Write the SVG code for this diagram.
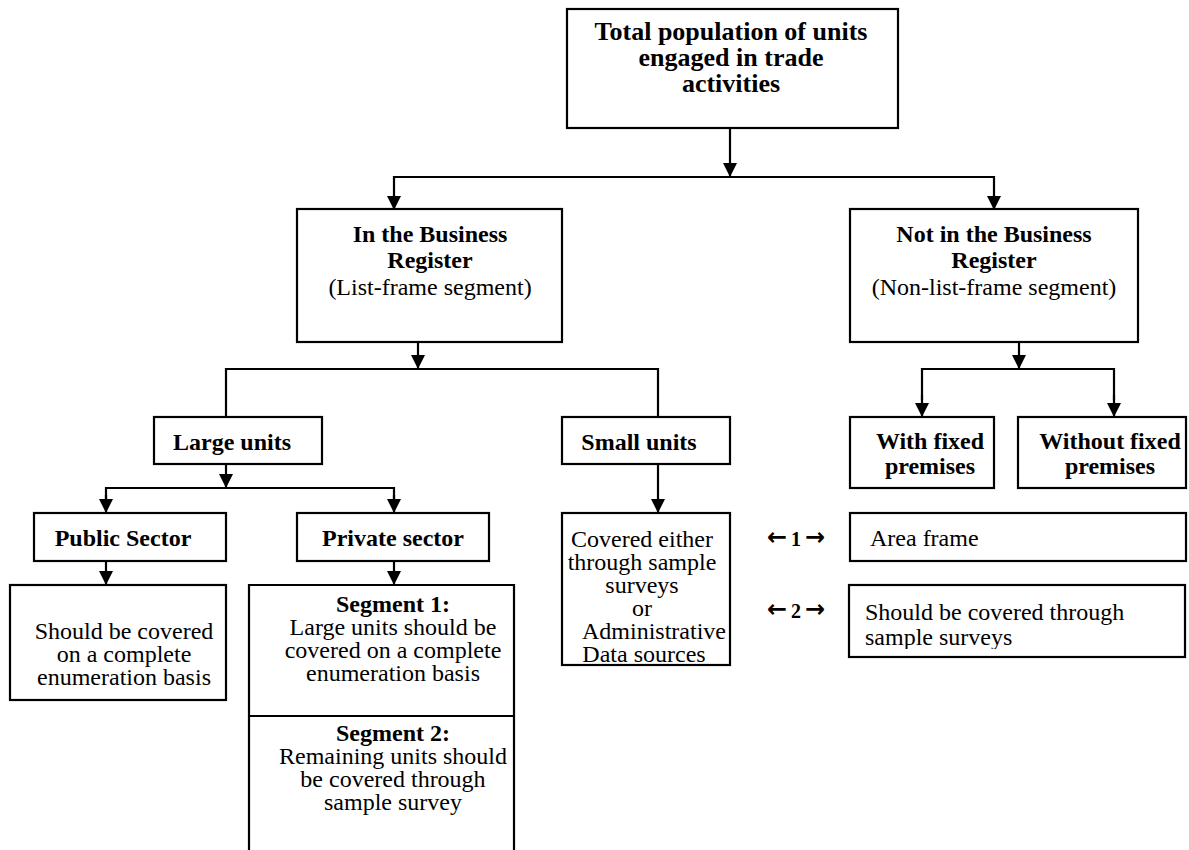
<svg xmlns="http://www.w3.org/2000/svg" width="1189" height="850" viewBox="0 0 1189 850">
<defs>
<style>
.box{fill:#fff;stroke:#000;stroke-width:2.2}
.ln{fill:none;stroke:#000;stroke-width:2.2}
text{font-family:"Liberation Serif","Times New Roman",serif;fill:#000;font-size:24px}
.b{font-weight:bold}
.c{text-anchor:middle}
.big{font-size:26px;font-weight:bold}
.arr{font-family:"DejaVu Sans","Liberation Sans",sans-serif;font-size:24px;font-weight:bold}
.num{font-size:20px;font-weight:bold}
</style>
<marker id="ah" viewBox="0 0 14 14" refX="14" refY="7" markerWidth="14" markerHeight="14" markerUnits="userSpaceOnUse" orient="auto">
<path d="M0,0 L14,7 L0,14 z" fill="#000"/>
</marker>
<clipPath id="clipS"><rect x="850" y="586" width="335" height="63"/></clipPath>
</defs>

<g id="connectors">
<path class="ln" d="M730,128 V177" marker-end="url(#ah)"/>
<path class="ln" d="M394,200 V177 H994 V200"/>
<path class="ln" d="M394,195 V210" marker-end="url(#ah)"/>
<path class="ln" d="M994,195 V210" marker-end="url(#ah)"/>
<path class="ln" d="M418,342 V369" marker-end="url(#ah)"/>
<path class="ln" d="M226,417 V369 H658 V417"/>
<path class="ln" d="M1019,342 V369" marker-end="url(#ah)"/>
<path class="ln" d="M922,400 V369 H1114 V400"/>
<path class="ln" d="M922,395 V417" marker-end="url(#ah)"/>
<path class="ln" d="M1114,395 V417" marker-end="url(#ah)"/>
<path class="ln" d="M226,464 V488" marker-end="url(#ah)"/>
<path class="ln" d="M106,500 V488 H394 V500"/>
<path class="ln" d="M106,495 V513" marker-end="url(#ah)"/>
<path class="ln" d="M394,495 V513" marker-end="url(#ah)"/>
<path class="ln" d="M106,561 V585" marker-end="url(#ah)"/>
<path class="ln" d="M394,561 V585" marker-end="url(#ah)"/>
<path class="ln" d="M658,464 V513" marker-end="url(#ah)"/>
</g>

<g id="total">
<rect class="box" x="567" y="9" width="331" height="119"/>
<text class="big c" x="731" y="40">Total population of units</text>
<text class="big c" x="731" y="66">engaged in trade</text>
<text class="big c" x="731" y="92">activities</text>
</g>

<g id="in-register">
<rect class="box" x="297" y="209" width="265" height="133"/>
<text class="b c" x="430" y="242">In the Business</text>
<text class="b c" x="430" y="268">Register</text>
<text class="c" x="430" y="295">(List-frame segment)</text>
</g>

<g id="not-in-register">
<rect class="box" x="850" y="209" width="288" height="133"/>
<text class="b c" x="994" y="242">Not in the Business</text>
<text class="b c" x="994" y="268">Register</text>
<text class="c" x="994" y="295">(Non-list-frame segment)</text>
</g>

<g id="large-units">
<rect class="box" x="154" y="417" width="168" height="47"/>
<text class="b c" x="232" y="450">Large units</text>
</g>

<g id="small-units">
<rect class="box" x="562" y="417" width="168" height="47"/>
<text class="b c" x="639" y="450">Small units</text>
</g>

<g id="with-fixed">
<rect class="box" x="850" y="417" width="144" height="71"/>
<text class="b c" x="930" y="449">With fixed</text>
<text class="b c" x="930" y="474">premises</text>
</g>

<g id="without-fixed">
<rect class="box" x="1018" y="417" width="168" height="71"/>
<text class="b c" x="1110" y="449">Without fixed</text>
<text class="b c" x="1110" y="474">premises</text>
</g>

<g id="public-sector">
<rect class="box" x="34" y="513" width="192" height="48"/>
<text class="b c" x="123" y="546">Public Sector</text>
</g>

<g id="private-sector">
<rect class="box" x="297" y="513" width="192" height="48"/>
<text class="b c" x="393" y="546">Private sector</text>
</g>

<g id="public-coverage">
<rect class="box" x="10" y="585" width="216" height="115"/>
<text class="c" x="124" y="639">Should be covered</text>
<text class="c" x="124" y="662">on a complete</text>
<text class="c" x="124" y="685">enumeration basis</text>
</g>

<g id="segments">
<path class="ln" d="M249,852 V585 H514 V852"/>
<path class="ln" d="M249,716 H514"/>
<text class="b c" x="393" y="612">Segment 1:</text>
<text class="c" x="393" y="635">Large units should be</text>
<text class="c" x="393" y="658">covered on a complete</text>
<text class="c" x="393" y="681">enumeration basis</text>
<text class="b c" x="393" y="741">Segment 2:</text>
<text class="c" x="393" y="764">Remaining units should</text>
<text class="c" x="393" y="787">be covered through</text>
<text class="c" x="393" y="810">sample survey</text>
</g>

<g id="small-coverage">
<rect class="box" x="562" y="513" width="168" height="152"/>
<text class="c" x="642" y="547">Covered either</text>
<text class="c" x="642" y="570">through sample</text>
<text class="c" x="642" y="593">surveys</text>
<text class="c" x="642" y="616">or</text>
<text class="c" x="654" y="639">Administrative</text>
<text class="c" x="644" y="662">Data sources</text>
</g>

<g id="link1">
<text class="arr" x="767" y="545">←</text>
<text class="num" x="791" y="546">1</text>
<text class="arr" x="805" y="545">→</text>
</g>

<g id="link2">
<text class="arr" x="767" y="617">←</text>
<text class="num" x="791" y="618">2</text>
<text class="arr" x="805" y="617">→</text>
</g>

<g id="area-frame">
<rect class="box" x="850" y="513" width="336" height="48"/>
<text x="870" y="546">Area frame</text>
</g>

<g id="sample-surveys">
<rect class="box" x="849" y="585" width="336" height="72"/>
<g clip-path="url(#clipS)">
<text x="865" y="620">Should be covered through</text>
<text x="865" y="645">sample surveys</text>
</g>
</g>
</svg>
